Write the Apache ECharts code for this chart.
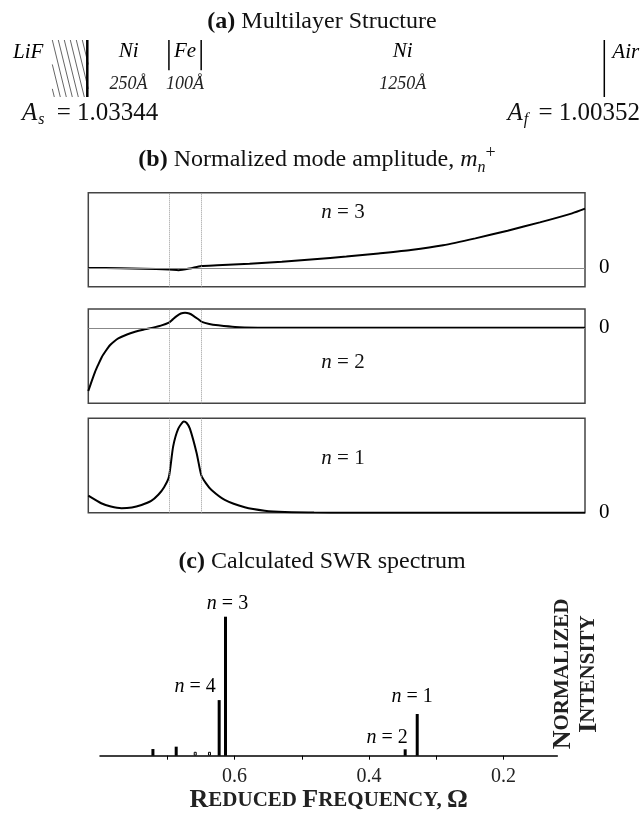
<!DOCTYPE html>
<html>
<head>
<meta charset="utf-8">
<title>SWR spectrum of a Ni/Fe/Ni multilayer</title>
<script src="https://cdn.jsdelivr.net/npm/echarts@6/dist/echarts.min.js"></script>
<style>
  html, body { margin: 0; padding: 0; background: #fff; }
  #chart { width: 644px; height: 821px; }
</style>
</head>
<body>
<div id="chart"></div>
<script>
const SERIF = "'Liberation Serif', 'Times New Roman', 'DejaVu Serif', serif";

// (a) multilayer structure, thicknesses in Å
const layerNames = ['Ni', 'Fe', 'Ni'];
const layerThick = [250, 100, 1250];
const substrateName = 'LiF';
const ambientName = 'Air';
const ampSubstrate = '1.03344';
const ampFilm = '1.00352';

// (b) normalized mode amplitude across the film (depth in Å)
const depthN3 = [0, 100, 170, 250, 280, 315, 350, 400, 500, 600, 700, 800, 900, 1000, 1100, 1200, 1300, 1400, 1500, 1540];
const ampN3 = [0.0, -0.02, -0.04, -0.08, -0.12, -0.03, 0.10, 0.14, 0.22, 0.33, 0.46, 0.60, 0.77, 0.95, 1.20, 1.57, 1.98, 2.42, 2.90, 3.15];

const depthN2 = [0, 10, 21, 30, 42, 55, 67, 80, 93, 120, 145, 170, 197, 225, 250, 262, 274, 287, 300, 313, 326, 340, 352, 375, 403, 455, 526, 600, 800, 1000, 1540];
const ampN2 = [-3.35, -2.85, -2.33, -1.98, -1.54, -1.2, -0.92, -0.72, -0.56, -0.35, -0.21, -0.1, 0.0, 0.12, 0.28, 0.45, 0.62, 0.76, 0.80, 0.76, 0.64, 0.47, 0.32, 0.21, 0.14, 0.05, 0.01, 0.004, 0, 0, 0];

const depthN1 = [0, 40, 70, 103, 135, 165, 195, 217, 235, 250, 263, 279, 296, 305, 315, 336, 350, 365, 382, 423, 485, 547, 609, 700, 800, 1000, 1200, 1540];
const ampN1 = [0.18, 0.10, 0.065, 0.047, 0.055, 0.082, 0.125, 0.19, 0.27, 0.38, 0.70, 0.89, 0.965, 0.95, 0.89, 0.63, 0.40, 0.31, 0.24, 0.135, 0.057, 0.021, 0.007, 0.002, 0, 0, 0, 0];

// (c) calculated SWR spectrum
const peakFreq = [0.7213, 0.6867, 0.6584, 0.6372, 0.6228, 0.6134, 0.3462, 0.3283];
const peakIntensity = [0.048, 0.065, 0.028, 0.028, 0.40, 1.0, 0.046, 0.30];
const peakMode = [null, null, null, null, 4, 3, 2, 1];
const peakHollow = [false, false, true, true, false, false, false, false];
const freqTicks = [0.2, 0.3, 0.4, 0.5, 0.6, 0.7];
const freqLabels = [0.2, 0.4, 0.6];

// interface positions from the layer thicknesses
const interfaces = [0];
layerThick.forEach(t => interfaces.push(interfaces[interfaces.length - 1] + t));
const layerMid = layerThick.map((t, i) => [interfaces[i] + t / 2, i]);

const italic = { fontStyle: 'italic', fontFamily: SERIF };
const pairs = (xs, ys) => xs.map((x, i) => [x, ys[i]]);

function structureItem(params, api) {
  const i = params.dataIndex;
  const xv = api.value(0);
  const top = api.coord([xv, 1]);
  const bot = api.coord([xv, 0]);
  const kids = [];
  if (i === 0) {
    const xr = top[0], xl = xr - 36, dx = 14, h = bot[1] - top[1];
    for (let k = -3; k < 8; k++) {
      const x1 = xl + k * 6;
      const t0 = Math.max(0, (xl - x1) / dx);
      const t1 = Math.min(1, (xr - x1) / dx);
      if (t1 <= t0) continue;
      kids.push({ type: 'line', shape: { x1: x1 + t0 * dx, y1: top[1] + t0 * h, x2: x1 + t1 * dx, y2: top[1] + t1 * h },
        style: { stroke: '#666', lineWidth: 1 } });
    }
    kids.push({ type: 'line', shape: { x1: xr - 1, y1: top[1], x2: xr - 1, y2: bot[1] }, style: { stroke: '#000', lineWidth: 2.5 } });
    kids.push({ type: 'text', style: { text: substrateName, x: xr - 45, y: top[1] + 12, fill: '#000',
      font: 'italic 21px ' + SERIF, align: 'right', verticalAlign: 'middle' } });
  } else if (i === interfaces.length - 1) {
    kids.push({ type: 'line', shape: { x1: top[0], y1: top[1], x2: top[0], y2: bot[1] }, style: { stroke: '#000', lineWidth: 1.5 } });
    kids.push({ type: 'text', style: { text: ambientName, x: top[0] + 8, y: top[1] + 12, fill: '#000',
      font: 'italic 21px ' + SERIF, align: 'left', verticalAlign: 'middle' } });
  } else {
    const mid = api.coord([xv, 0.47]);
    kids.push({ type: 'line', shape: { x1: top[0], y1: top[1], x2: top[0], y2: mid[1] }, style: { stroke: '#000', lineWidth: 1.5 } });
  }
  return { type: 'group', children: kids };
}

function layerItem(params, api) {
  const i = api.value(1);
  const pName = api.coord([api.value(0), 0.79]);
  const pThick = api.coord([api.value(0), 0.23]);
  return { type: 'group', children: [
    { type: 'text', style: { text: layerNames[i], x: pName[0], y: pName[1], fill: '#000',
      font: 'italic 21px ' + SERIF, align: 'center', verticalAlign: 'middle' } },
    { type: 'text', style: { text: layerThick[i] + 'Å', x: pThick[0], y: pThick[1], fill: '#222',
      font: 'italic 18px ' + SERIF, align: 'center', verticalAlign: 'middle' } }
  ] };
}

const dottedLines = interfaces.slice(1, -1).map(v => ({ xAxis: v }));
const zeroLine = { yAxis: 0, lineStyle: { type: 'solid', color: '#888', width: 1 } };

function modeMarks(withZero) {
  return {
    silent: true, symbol: 'none', label: { show: false },
    lineStyle: { type: 'dotted', color: '#999', width: 1 },
    data: withZero ? dottedLines.concat([zeroLine]) : dottedLines
  };
}

function modeYAxis(grid, min, max) {
  return {
    gridIndex: grid, type: 'value', min: min, max: max, interval: 1, position: 'right',
    axisLine: { show: false }, axisTick: { show: false }, splitLine: { show: false },
    axisLabel: { margin: 14, color: '#000', fontSize: 21, fontFamily: SERIF,
      formatter: v => (Math.abs(v) < 1e-9 ? '0' : '') }
  };
}

const depthAxis = grid => ({ gridIndex: grid, type: 'value', min: 0, max: 1540, show: false });
const boxGrid = (top, height) => ({ left: 88.3, top: top, width: 496.7, height: height,
  show: true, borderColor: '#444', borderWidth: 1.5, backgroundColor: 'transparent' });

const labelPlace = {
  4: { offset: [-24, 0], distance: 3 },
  3: { offset: [2, 0], distance: 3 },
  2: { offset: [-18, 0], distance: 2 },
  1: { offset: [-5, 0], distance: 7 }
};

const peakData = peakFreq.map((f, i) => {
  const item = { value: [f, peakIntensity[i]] };
  if (peakHollow[i]) item.itemStyle = { color: '#fff', borderColor: '#000', borderWidth: 1 };
  const n = peakMode[i];
  if (n != null) {
    item.label = Object.assign({ show: true, position: 'top', formatter: '{i|n} = ' + n }, labelPlace[n]);
  }
  return item;
});

const chart = echarts.init(document.getElementById('chart'), null, { renderer: 'canvas' });

chart.setOption({
  animation: false,
  backgroundColor: '#fff',
  textStyle: { fontFamily: SERIF },
  grid: [
    { left: 88.3, top: 40, width: 516, height: 57, show: false },
    boxGrid(192.7, 94),
    boxGrid(309, 94.3),
    boxGrid(418.3, 94.4),
    { left: 100, top: 602.8, width: 457.3, height: 152.9, show: false }
  ],
  xAxis: [
    { gridIndex: 0, type: 'value', min: 0, max: 1600, show: false },
    depthAxis(1), depthAxis(2), depthAxis(3),
    {
      gridIndex: 4, type: 'value', min: 0.12, max: 0.8, inverse: true,
      axisLine: { show: true, onZero: false, lineStyle: { color: '#000', width: 1.5 } },
      axisTick: { show: true, customValues: freqTicks, length: 4, lineStyle: { color: '#000', width: 1 } },
      axisLabel: { customValues: freqLabels, margin: 11, color: '#222', fontSize: 20, fontFamily: SERIF,
        formatter: v => v.toFixed(1) },
      splitLine: { show: false },
      name: '{b|R}{s|EDUCED }{b|F}{s|REQUENCY, }{b|Ω}',
      nameLocation: 'middle', nameGap: 30,
      nameTextStyle: {
        color: '#222', fontFamily: SERIF, fontWeight: 'bold',
        rich: {
          b: { fontSize: 26, fontWeight: 'bold', fontFamily: SERIF, color: '#222' },
          s: { fontSize: 21, fontWeight: 'bold', fontFamily: SERIF, color: '#222' }
        }
      }
    }
  ],
  yAxis: [
    { gridIndex: 0, type: 'value', min: 0, max: 1, show: false },
    modeYAxis(1, -1, 4),
    modeYAxis(2, -4, 1),
    modeYAxis(3, 0, 1),
    { gridIndex: 4, type: 'value', min: 0, max: 1.1, show: false }
  ],
  series: [
    { type: 'custom', name: 'interfaces', xAxisIndex: 0, yAxisIndex: 0, silent: true,
      renderItem: structureItem, data: interfaces.map(v => [v]) },
    { type: 'custom', name: 'layers', xAxisIndex: 0, yAxisIndex: 0, silent: true,
      renderItem: layerItem, data: layerMid },
    { type: 'line', name: 'n = 3', xAxisIndex: 1, yAxisIndex: 1, data: pairs(depthN3, ampN3),
      showSymbol: false, smooth: 0.2, lineStyle: { color: '#000', width: 2 }, markLine: modeMarks(true) },
    { type: 'line', name: 'n = 2', xAxisIndex: 2, yAxisIndex: 2, data: pairs(depthN2, ampN2),
      showSymbol: false, smooth: 0.2, lineStyle: { color: '#000', width: 2 }, markLine: modeMarks(true) },
    { type: 'line', name: 'n = 1', xAxisIndex: 3, yAxisIndex: 3, data: pairs(depthN1, ampN1),
      showSymbol: false, smooth: 0.2, lineStyle: { color: '#000', width: 2 }, markLine: modeMarks(false) },
    {
      type: 'bar', name: 'SWR', xAxisIndex: 4, yAxisIndex: 4, barWidth: 3,
      itemStyle: { color: '#000' },
      label: { color: '#000', fontSize: 20, fontFamily: SERIF, rich: { i: Object.assign({ fontSize: 20, color: '#000' }, italic) } },
      data: peakData
    }
  ],
  graphic: [
    { type: 'text', x: 322, y: 22, style: { text: '{b|(a)} Multilayer Structure', fill: '#111',
      font: '24px ' + SERIF, align: 'center', verticalAlign: 'middle',
      rich: { b: { fontWeight: 'bold', fontSize: 24, fontFamily: SERIF } } } },
    { type: 'text', x: 22, y: 113, style: { text: '{i|A}{sub|s} = ' + ampSubstrate, fill: '#111',
      font: '25px ' + SERIF, align: 'left', verticalAlign: 'middle',
      rich: { i: { fontStyle: 'italic', fontSize: 25, fontFamily: SERIF, lineHeight: 30 },
              sub: { fontStyle: 'italic', fontSize: 16, fontFamily: SERIF, lineHeight: 16, verticalAlign: 'bottom', padding: [0, 6, 0, 1] } } } },
    { type: 'text', x: 640, y: 113, style: { text: '{i|A}{sub|f} = ' + ampFilm, fill: '#111',
      font: '25px ' + SERIF, align: 'right', verticalAlign: 'middle',
      rich: { i: { fontStyle: 'italic', fontSize: 25, fontFamily: SERIF, lineHeight: 30 },
              sub: { fontStyle: 'italic', fontSize: 16, fontFamily: SERIF, lineHeight: 16, verticalAlign: 'bottom', padding: [0, 4, 0, 1] } } } },
    { type: 'text', x: 317, y: 160, style: { text: '{b|(b)} Normalized mode amplitude, {i|m}{sub|n}{sup|+}', fill: '#111',
      font: '24px ' + SERIF, align: 'center', verticalAlign: 'middle',
      rich: { b: { fontWeight: 'bold', fontSize: 24, fontFamily: SERIF, lineHeight: 32 },
              i: { fontStyle: 'italic', fontSize: 24, fontFamily: SERIF, lineHeight: 32 },
              sub: { fontStyle: 'italic', fontSize: 16, fontFamily: SERIF, lineHeight: 16, verticalAlign: 'bottom' },
              sup: { fontSize: 18, fontFamily: SERIF, lineHeight: 18, verticalAlign: 'top' } } } },
    { type: 'text', x: 343, y: 212, style: { text: '{i|n} = 3', fill: '#111', font: '21px ' + SERIF,
      align: 'center', verticalAlign: 'middle', rich: { i: Object.assign({ fontSize: 21 }, italic) } } },
    { type: 'text', x: 343, y: 362, style: { text: '{i|n} = 2', fill: '#111', font: '21px ' + SERIF,
      align: 'center', verticalAlign: 'middle', rich: { i: Object.assign({ fontSize: 21 }, italic) } } },
    { type: 'text', x: 343, y: 458, style: { text: '{i|n} = 1', fill: '#111', font: '21px ' + SERIF,
      align: 'center', verticalAlign: 'middle', rich: { i: Object.assign({ fontSize: 21 }, italic) } } },
    { type: 'text', x: 322, y: 562, style: { text: '{b|(c)} Calculated SWR spectrum', fill: '#111',
      font: '24px ' + SERIF, align: 'center', verticalAlign: 'middle',
      rich: { b: { fontWeight: 'bold', fontSize: 24, fontFamily: SERIF } } } },
    { type: 'text', x: 576, y: 674, rotation: Math.PI / 2, style: {
      text: '{b|N}{s|ORMALIZED}\n{b|I}{s|NTENSITY}', fill: '#222', align: 'center', verticalAlign: 'middle',
      font: 'bold 21px ' + SERIF,
      rich: { b: { fontSize: 26, fontWeight: 'bold', fontFamily: SERIF, lineHeight: 26 },
              s: { fontSize: 21, fontWeight: 'bold', fontFamily: SERIF, lineHeight: 26 } } } }
  ]
});
</script>
</body>
</html>
